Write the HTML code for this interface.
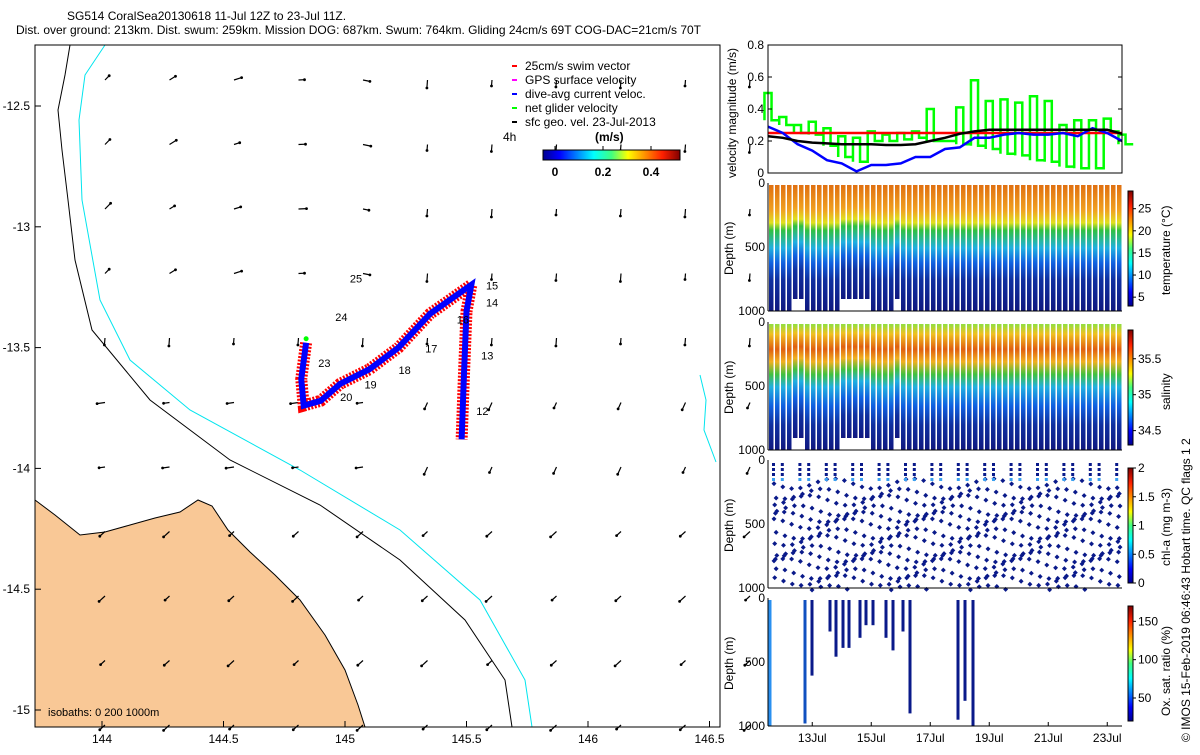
<!DOCTYPE html>
<html><head><meta charset="utf-8"><style>
body{margin:0;background:#fff;}
svg text{font-family:"Liberation Sans",sans-serif;}
</style></head><body>
<svg id="s" width="1200" height="750" xmlns="http://www.w3.org/2000/svg">
<defs>
<linearGradient id="jet" x1="0" y1="0" x2="1" y2="0">
<stop offset="0" stop-color="#00008f"/><stop offset="0.12" stop-color="#0000ff"/><stop offset="0.37" stop-color="#00ffff"/><stop offset="0.5" stop-color="#40ff80"/><stop offset="0.62" stop-color="#ffff00"/><stop offset="0.87" stop-color="#ff2000"/><stop offset="1" stop-color="#800000"/></linearGradient>
<linearGradient id="jetv" x1="0" y1="1" x2="0" y2="0">
<stop offset="0" stop-color="#00008f"/><stop offset="0.12" stop-color="#0000ff"/><stop offset="0.37" stop-color="#00ffff"/><stop offset="0.5" stop-color="#40ff80"/><stop offset="0.62" stop-color="#ffff00"/><stop offset="0.87" stop-color="#ff2000"/><stop offset="1" stop-color="#800000"/></linearGradient>
<linearGradient id="tprof" x1="0" y1="0" x2="0" y2="1">
<stop offset="0" stop-color="#e07010"/><stop offset="0.2" stop-color="#f0a020"/><stop offset="0.3" stop-color="#e0e020"/><stop offset="0.36" stop-color="#30c040"/><stop offset="0.5" stop-color="#20b0e0"/><stop offset="0.62" stop-color="#1060e0"/><stop offset="0.75" stop-color="#1030a0"/><stop offset="1" stop-color="#101880"/></linearGradient>
<linearGradient id="sprof" x1="0" y1="0" x2="0" y2="1">
<stop offset="0" stop-color="#90e040"/><stop offset="0.08" stop-color="#f0c020"/><stop offset="0.2" stop-color="#e06010"/><stop offset="0.3" stop-color="#f0b020"/><stop offset="0.4" stop-color="#40c040"/><stop offset="0.5" stop-color="#20b0e0"/><stop offset="0.65" stop-color="#1060e0"/><stop offset="0.8" stop-color="#1030a0"/><stop offset="1" stop-color="#101880"/></linearGradient>
</defs>
<text x="67" y="20" font-size="12">SG514 CoralSea20130618 11-Jul 12Z to 23-Jul 11Z.</text>
<text x="16" y="34" font-size="12">Dist. over ground: 213km. Dist. swum: 259km. Mission DOG: 687km. Swum: 764km. Gliding 24cm/s 69T COG-DAC=21cm/s 70T</text>
<g id="map"></g>
<g id="right"></g>
<text transform="translate(1190,742) rotate(-90)" font-size="12">© IMOS 15-Feb-2019 06:46:43 Hobart time. QC flags 1  2</text>
</svg>
<script>
// ---- data ----
const lonTicks=[144,144.5,145,145.5,146,146.5];
const latTicks=[-12.5,-13,-13.5,-14,-14.5,-15];
const trackLon=[144.84,144.82,144.83,144.9,144.98,145.1,145.22,145.35,145.52,145.5,145.49,145.48];
const trackLat=[-13.48,-13.63,-13.74,-13.72,-13.65,-13.59,-13.5,-13.36,-13.24,-13.35,-13.6,-13.88];
const dayLabels=[25,24,23,20,19,18,17,16,15,14,13,12];
const dayLon=[145.02,144.96,144.89,144.98,145.08,145.22,145.33,145.46,145.58,145.58,145.56,145.54];
const dayLat=[-13.23,-13.39,-13.58,-13.72,-13.67,-13.61,-13.52,-13.4,-13.26,-13.33,-13.55,-13.78];
const velTicks=[0,0.2,0.4,0.6,0.8];
const velDays=[11.5,12,12.5,13,13.5,14,14.5,15,15.5,16,16.5,17,17.5,18,18.5,19,19.5,20,20.5,21,21.5,22,22.5,23,23.5];
const swimVel=[0.25,0.25,0.25,0.25,0.25,0.25,0.25,0.25,0.25,0.25,0.25,0.25,0.25,0.25,0.25,0.25,0.25,0.25,0.25,0.25,0.25,0.25,0.25,0.25,0.25];
const geoVel=[0.23,0.22,0.2,0.19,0.185,0.18,0.18,0.18,0.175,0.175,0.18,0.2,0.22,0.245,0.26,0.27,0.27,0.27,0.27,0.27,0.27,0.27,0.27,0.27,0.245];
const dacVel=[0.29,0.25,0.18,0.14,0.08,0.06,0.01,0.05,0.05,0.06,0.1,0.1,0.15,0.16,0.22,0.22,0.24,0.25,0.24,0.24,0.25,0.23,0.28,0.25,0.2];
const netHi=[0.5,0.35,0.3,0.32,0.28,0.23,0.22,0.26,0.24,0.25,0.26,0.4,0.2,0.41,0.58,0.45,0.46,0.44,0.48,0.45,0.3,0.33,0.33,0.34,0.24];
const netLo=[0.33,0.3,0.25,0.24,0.17,0.1,0.07,0.2,0.2,0.21,0.22,0.2,0.2,0.18,0.17,0.15,0.12,0.11,0.08,0.07,0.04,0.03,0.03,0.26,0.18];
const dateTicks=[13,15,17,19,21,23];
const tempTicks=[5,10,15,20,25];
const salTicks=[34.5,35,35.5];
const chlTicks=[0,0.5,1,1.5,2];
const oxTicks=[50,100,150];

const NS='http://www.w3.org/2000/svg';
function E(p,t,a,txt){const e=document.createElementNS(NS,t);for(const k in a)e.setAttribute(k,a[k]);if(txt!==undefined)e.textContent=txt;p.appendChild(e);return e;}
const map=document.getElementById('map'), R=document.getElementById('right');
const mx=v=>102+(v-144)*243, my=v=>106-(v+12.5)*241.6;
const MB=727;

let land=E(map,'path',{d:'M35,500 L55,515 L80,535 L105,532 L130,525 L155,518 L180,512 L198,500 L212,506 L228,530 L250,552 L275,575 L300,600 L325,635 L345,670 L358,705 L365,727 L35,727 Z',fill:'#f9c896',stroke:'#000','stroke-width':1});

let iso1=E(map,'polyline',{points:'70,45 65,75 58,110 62,150 68,200 75,260 92,330 150,400 230,460 320,505 400,560 465,620 505,680 512,727',fill:'none',stroke:'#000'});

let iso2=E(map,'polyline',{points:'105,45 85,75 79,120 82,200 100,300 130,360 190,410 300,470 400,530 480,600 525,680 532,727',fill:'none',stroke:'#00e5ee'});

E(map,'polyline',{points:'700,375 706,400 704,430 716,462',fill:'none',stroke:'#00e5ee'});
for(let i=0;i<11;i++)for(let j=0;j<11;j++){
 const x=105+i*64.5,y=80+j*64.5;
 let a;
 if(j<4&&i<5)a=-0.8+i*0.25;
 else if(j<5)a=1.65;
 else if(j<7)a=(i<5?3.0:2.0);
 else a=2.4;
 const L=6+((i+j)%3);
 const ar=E(map,'line',{x1:x,y1:y,x2:(x+Math.cos(a)*L).toFixed(1),y2:(y+Math.sin(a)*L).toFixed(1),stroke:'#000','stroke-width':1.2});
 
 E(map,'circle',{cx:(x+Math.cos(a)*L).toFixed(1),cy:(y+Math.sin(a)*L).toFixed(1),r:1.4,fill:'#000'});
}
const tp=trackLon.map((v,i)=>mx(v)+','+my(trackLat[i])).join(' ');
let tr=E(map,'polyline',{points:tp,fill:'none',stroke:'#ff0000','stroke-width':12,'stroke-dasharray':'2 1.5'});

let tb=E(map,'polyline',{points:tp,fill:'none',stroke:'#0000ff','stroke-width':6});

E(map,'circle',{cx:mx(trackLon[0]),cy:my(trackLat[0])-4,r:2.5,fill:'#00ff00'});
dayLabels.forEach((d,i)=>{const t=E(map,'text',{x:mx(dayLon[i]),y:my(dayLat[i]),'font-size':11},String(d));
 });
E(map,'rect',{x:35,y:45,width:685,height:MB-45,fill:'none',stroke:'#000'});
lonTicks.forEach(v=>{E(map,'line',{x1:mx(v),y1:MB,x2:mx(v),y2:MB-6,stroke:'#000'});
 const t=E(map,'text',{x:mx(v),y:743,'font-size':12,'text-anchor':'middle'},String(v));});
latTicks.forEach(v=>{E(map,'line',{x1:35,y1:my(v),x2:41,y2:my(v),stroke:'#000'});
 const t=E(map,'text',{x:30,y:my(v)+4,'font-size':12,'text-anchor':'end'},String(v));});
E(map,'text',{x:48,y:716,'font-size':11},'isobaths: 0   200  1000m');
const lg=[['#ff0000','25cm/s swim vector'],['#ff00ff','GPS surface velocity'],['#0000ff','dive-avg current veloc.'],['#00ff00','net glider velocity'],['#000','sfc geo. vel. 23-Jul-2013']];
lg.forEach((l,i)=>{const y=70+i*14;E(map,'line',{x1:512,y1:y-4,x2:517,y2:y-4,stroke:l[0],'stroke-width':2});
 const t=E(map,'text',{x:525,y:y,'font-size':12},l[1]);});
E(map,'text',{x:503,y:141,'font-size':12},'4h');
E(map,'text',{x:595,y:141,'font-size':12,'font-weight':'bold'},'(m/s)');
let cb=E(map,'rect',{x:543,y:150,width:137,height:10,fill:'url(#jet)',stroke:'#000'});
[[0,555],[0.2,603],[0.4,651]].forEach(p=>{E(map,'line',{x1:p[1],y1:146,x2:p[1],y2:150,stroke:'#000'});E(map,'text',{x:p[1],y:176,'font-size':12,'font-weight':'bold','text-anchor':'middle'},String(p[0]));});

// ---- right panels ----
const X0=768,X1=1122, dx=d=>X0+(d-11.5)*(X1-X0)/12;
const vy=v=>173-v*160;
const gp=[];velDays.forEach((d,i)=>{gp.push(dx(d-0.12)+','+vy(netLo[i]));gp.push(dx(d-0.12)+','+vy(netHi[i]));gp.push(dx(d+0.12)+','+vy(netHi[i]));gp.push(dx(d+0.12)+','+vy(netLo[i]));gp.push(dx(d+0.38)+','+vy(netLo[i]));});
let gl=E(R,'polyline',{points:gp.join(' '),fill:'none',stroke:'#00ff00','stroke-width':2.5});
[[swimVel,'#ff0000','swim-velocity-line'],[dacVel,'#0000ff','dac-velocity-line'],[geoVel,'#000','geo-velocity-line']].forEach(s=>{
 const l=E(R,'polyline',{points:velDays.map((d,i)=>dx(d)+','+vy(s[0][i])).join(' '),fill:'none',stroke:s[1],'stroke-width':2.5});
 });
E(R,'rect',{x:X0,y:45,width:X1-X0,height:128,fill:'none',stroke:'#000'});
velTicks.forEach(v=>{E(R,'line',{x1:X0,y1:vy(v),x2:X0+4,y2:vy(v),stroke:'#000'});E(R,'line',{x1:X1,y1:vy(v),x2:X1-4,y2:vy(v),stroke:'#000'});
 const t=E(R,'text',{x:X0-4,y:vy(v)+4,'font-size':12,'text-anchor':'end'},String(v));});
E(R,'text',{transform:'translate(736,178) rotate(-90)','font-size':12},'velocity magnitude (m/s)');

function depthPanel(top,name,label,ticks,tfun,fillFn){
 const g=E(R,'g',{});
 const h=128; fillFn(g,top,h);
 E(g,'line',{x1:X0,y1:top,x2:X0,y2:top+h,stroke:'#000'});E(g,'line',{x1:X0,y1:top+h,x2:X1,y2:top+h,stroke:'#000'});
 [[0,top],[500,top+h/2],[1000,top+h]].forEach(p=>{E(g,'text',{x:X0-3,y:p[1]+4,'font-size':12,'text-anchor':'end'},String(p[0]));});
 E(g,'text',{transform:`translate(733,${top+h/2+28}) rotate(-90)`,'font-size':12},'Depth (m)');
 E(g,'rect',{x:1128,y:top+8,width:5,height:115,fill:'url(#jetv)',stroke:'#000'});
 ticks.forEach(v=>{const y=top+8+115*(1-tfun(v));E(g,'line',{x1:1133,y1:y,x2:1136,y2:y,stroke:'#000'});E(g,'text',{x:1138,y:y+4,'font-size':12},String(v));});
 E(g,'text',{transform:`translate(1170,${top+h/2+(label.length*3)}) rotate(-90)`,'font-size':12},label);
}
function stripes(grad){return (g,top,h)=>{for(let x=X0+1;x<X1;x+=6){const hh=(x>790&&x<800)||(x>840&&x<870)||(x>890&&x<900)?h-12:h;E(g,'rect',{x:x,y:top+2,width:4.5,height:hh-2,fill:grad});}};}
depthPanel(183,'temperature-panel','temperature (°C)',tempTicks,v=>(v-3)/26,stripes('url(#tprof)'));
depthPanel(322,'salinity-panel','salinity',salTicks,v=>(v-34.3)/1.6,stripes('url(#sprof)'));
depthPanel(460,'chl-panel','chl-a (mg m-3)',chlTicks,v=>v/2,(g,top,h)=>{
 for(let k=0;k<40;k++){const x0=X0+4+k*8.8;for(let m=0;m<14;m++){const y=top+22+m*8+5*Math.sin(k*0.7+m);if(y<top+h-2)E(g,'rect',{x:x0+((m*3)%5),y:y,width:3.5,height:3.5,fill:'#0a1a8a',transform:`rotate(45 ${x0+2} ${y+2})`});}
  if(k%3!==2)for(let m=0;m<4;m++)E(g,'rect',{x:x0,y:top+3+m*5,width:3,height:3,fill:m==3?'#3aa0f0':'#0a1a8a'});}
});
depthPanel(598,'oxygen-panel','Ox. sat. ratio (%)',oxTicks,v=>(v-20)/150,(g,top,h)=>{
 const cols=[[770,1,'#2a90f0'],[805,0.98,'#1050c0'],[812,0.6,'#0a1a8a'],[830,0.25,'#0a1a8a'],[836,0.45,'#0a1a8a'],[843,0.38,'#0a1a8a'],[849,0.38,'#0a1a8a'],[860,0.3,'#0a1a8a'],[866,0.2,'#0a1a8a'],[873,0.2,'#0a1a8a'],[886,0.3,'#0a1a8a'],[893,0.4,'#0a1a8a'],[903,0.25,'#0a1a8a'],[910,0.9,'#0a1a8a'],[958,0.95,'#0a1a8a'],[965,0.8,'#0a1a8a'],[973,1,'#0a1a8a']];
 cols.forEach(c=>E(g,'rect',{x:c[0]-1.5,y:top+2,width:3,height:(h-2)*c[1],fill:c[2]}));
});
dateTicks.forEach(d=>{E(R,'line',{x1:dx(d),y1:726,x2:dx(d),y2:722,stroke:'#000'});
 const t=E(R,'text',{x:dx(d),y:742,'font-size':12,'text-anchor':'middle'},d+'Jul');});
</script>
</body></html>
